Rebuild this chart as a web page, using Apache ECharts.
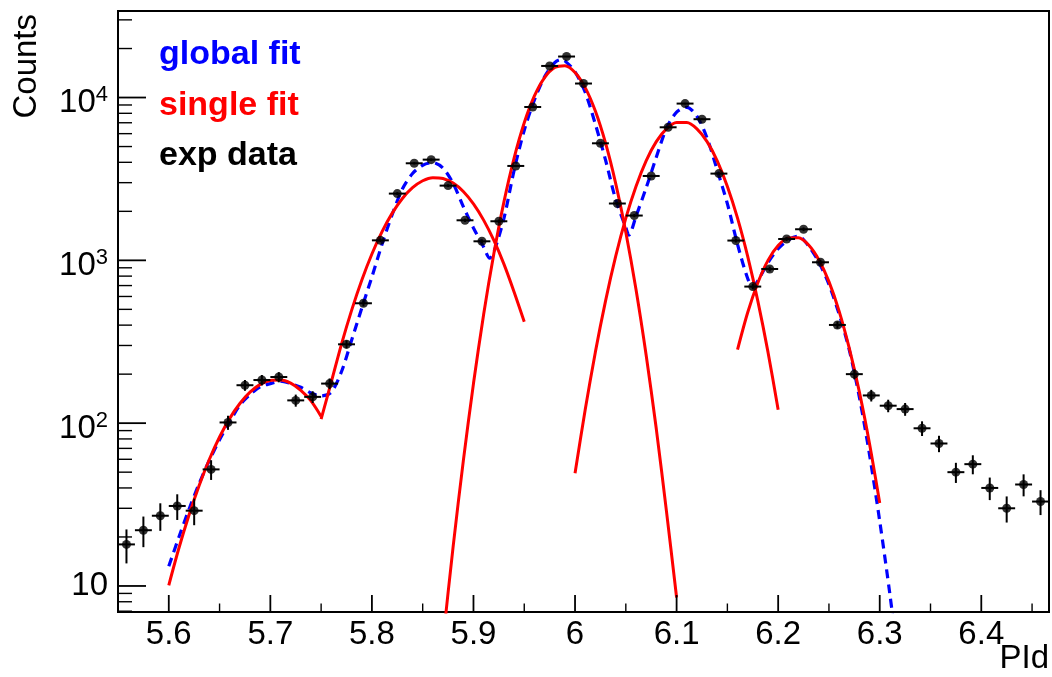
<!DOCTYPE html>
<html><head><meta charset="utf-8">
<script src="https://cdn.jsdelivr.net/npm/echarts@6/dist/echarts.min.js"></script>
<style>html,body{margin:0;padding:0;background:#fff}#c{width:1052px;height:677px}</style>
</head><body><div id="c"></div>
<script>
const FONT = '"Liberation Sans", Arial, Helvetica, sans-serif';

// histogram: 55 bins of width 1/60 starting at 5.55
const binStart = 5.55;
const binWidth = 1 / 60;
const counts = [18, 22, 27, 31, 29, 52, 101, 171, 184, 192,
  138, 145, 175, 305, 545, 1327, 2570, 3946, 4155, 2877,
  1762, 1309, 1738, 3800, 8750, 15630, 17860, 12190, 5235, 2234,
  1884, 3298, 6565, 9180, 7360, 3410, 1323, 690, 885, 1352,
  1552, 973, 401, 200, 148, 128, 122, 93, 75, 50,
  56, 40, 30, 42, 33];

// global fit (blue dashed)
const globalFit = [[5.60,13.2],[5.61,20.0],[5.62,29.7],[5.63,42.7],[5.64,59.2],[5.65,79],[5.66,102],[5.67,129],[5.68,150],[5.69,167],
  [5.70,175],[5.71,181],[5.72,175],[5.73,166],[5.74,153],[5.75,147],[5.76,155],[5.77,207],[5.78,323],[5.79,508],
  [5.80,791],[5.81,1256],[5.82,1914],[5.83,2742],[5.84,3412],[5.85,3837],[5.86,3981],[5.87,3681],[5.88,2965],[5.89,2138],
  [5.90,1581],[5.91,1208],[5.916,1030],[5.92,1122],[5.93,1811],[5.94,3573],[5.95,6295],[5.96,9660],[5.97,13400],[5.98,16400],[5.986,17100],[5.99,16800],
  [6.00,14390],[6.01,10770],[6.02,6871],[6.03,4140],[6.04,2366],[6.05,1589],[6.053,1430],[6.06,1862],[6.07,2786],[6.08,4295],[6.09,6457],
  [6.10,8128],[6.11,8710],[6.12,7674],[6.13,5636],[6.14,3581],[6.15,2228],[6.16,1253],[6.17,774],[6.175,690],[6.18,750],[6.19,970],
  [6.20,1178],[6.21,1334],[6.22,1406],[6.23,1225],[6.24,977],[6.25,711],[6.26,468],[6.27,282],[6.28,144],[6.29,63.8],
  [6.30,25],[6.31,8.9],[6.32,2.8]];

// single fits (red)
const singleFit1 = [[5.60,10.1],[5.61,17.1],[5.62,27.4],[5.63,41.6],[5.64,60.0],[5.65,82.2],[5.66,107],[5.67,132],[5.68,155],[5.69,173],
  [5.70,183],[5.71,184],[5.72,176],[5.73,159],[5.74,137],[5.75,110]];
const singleFit2 = [[5.75,106],[5.76,179],[5.77,305],[5.78,493],[5.79,755],[5.80,1094],[5.81,1500],[5.82,1950],[5.83,2399],[5.84,2793],
  [5.85,3083],[5.86,3221],[5.87,3184],[5.88,2985],[5.89,2649],[5.90,2223],[5.91,1766],[5.92,1330],[5.93,948],[5.94,640],[5.95,420]];
const singleFit3 = [[5.86,1.08],[5.87,4.6],[5.88,17.5],[5.89,58.7],[5.90,175],[5.91,465],[5.92,1094],[5.93,2286],[5.94,4246],[5.95,6998],
  [5.96,10230],[5.97,13270],[5.98,15310],[5.99,15700],[6.00,14260],[6.01,11510],[6.02,8260],[6.03,5260],[6.04,2972],[6.05,1489],
  [6.06,664],[6.07,262],[6.08,92.3],[6.09,28.8],[6.10,8.5]];
const singleFit4 = [[6.00,49.2],[6.01,121],[6.02,273],[6.03,562],[6.04,1057],[6.05,1816],[6.06,2844],[6.07,4083],[6.08,5358],[6.09,6412],
  [6.10,7015],[6.11,7015],[6.12,6412],[6.13,5358],[6.14,4083],[6.15,2844],[6.16,1816],[6.17,1057],[6.18,562],[6.19,273],[6.20,121]];
const singleFit5 = [[6.16,283],[6.17,478],[6.18,728],[6.19,1000],[6.20,1233],[6.21,1374],[6.22,1377],[6.23,1242],[6.24,1009],[6.25,740],
  [6.26,488],[6.27,289],[6.28,155],[6.29,74.5],[6.30,32.3]];

// axis ranges and ticks
const xRange = [5.55, 5.55 + 55 / 60];
const yRange = [6.92, 34000];
const xTickMajor = [5.6, 5.7, 5.8, 5.9, 6.0, 6.1, 6.2, 6.3, 6.4];
const xTickMinor = [5.65, 5.75, 5.85, 5.95, 6.05, 6.15, 6.25, 6.35, 6.45];
const yTickMajor = [10, 100, 1000, 10000];
const yTickMinor = [7, 8, 9, 20, 30, 40, 50, 60, 70, 80, 90, 200, 300, 400, 500, 600, 700, 800, 900,
  2000, 3000, 4000, 5000, 6000, 7000, 8000, 9000, 20000, 30000];

const legendItems = [
  {text: 'global fit', color: '#0000ff'},
  {text: 'single fit', color: '#ff0000'},
  {text: 'exp data', color: '#000000'}
];

const points = counts.map((c, i) => [binStart + (i + 0.5) * binWidth, c]);
const tickData = []
  .concat(xTickMajor.map(v => [v, yRange[0], 0]))
  .concat(xTickMinor.map(v => [v, yRange[0], 1]))
  .concat(yTickMajor.map(v => [xRange[0], v, 2]))
  .concat(yTickMinor.map(v => [xRange[0], v, 3]));

function renderTick(params, api) {
  const kind = api.value(2);
  const p = api.coord([api.value(0), api.value(1)]);
  const len = [17, 8.5, 28, 14][kind];
  const shape = kind < 2
    ? {x1: p[0], y1: p[1], x2: p[0], y2: p[1] - len}
    : {x1: p[0], y1: p[1], x2: p[0] + len, y2: p[1]};
  return {type: 'line', shape: shape, style: {stroke: '#000', lineWidth: kind % 2 === 0 ? 1.8 : 1.4}};
}

function renderErr(params, api) {
  const x = api.value(0), y = api.value(1), e = Math.sqrt(y);
  const c = api.coord([x, y]);
  const lo = api.coord([x, y - e]);
  const hi = api.coord([x, y + e]);
  const l = api.coord([x - binWidth / 2, y]);
  const r = api.coord([x + binWidth / 2, y]);
  const st = {stroke: '#000', lineWidth: 2};
  return {type: 'group', children: [
    {type: 'line', shape: {x1: c[0], y1: lo[1], x2: c[0], y2: hi[1]}, style: st},
    {type: 'line', shape: {x1: l[0], y1: c[1], x2: r[0], y2: c[1]}, style: st}
  ]};
}

const redStyle = {color: '#ff0000', width: 3};
function redSeries(d) {
  return {type: 'line', data: d, showSymbol: false, smooth: 0.3, lineStyle: redStyle, z: 3, clip: true};
}

const chart = echarts.init(document.getElementById('c'), null, {renderer: 'canvas'});
chart.setOption({
  animation: false,
  backgroundColor: '#fff',
  grid: {left: 118, right: 3, top: 11, bottom: 65, show: true, borderColor: '#000', borderWidth: 2, backgroundColor: 'transparent'},
  xAxis: {
    type: 'value', min: xRange[0], max: xRange[1], interval: 0.05,
    axisLine: {show: true, onZero: false, lineStyle: {color: '#000', width: 2}},
    axisTick: {show: false}, splitLine: {show: false},
    axisLabel: {
      margin: 6, fontSize: 33, fontFamily: FONT, color: '#000',
      formatter: v => (Math.round(v * 100) % 10 === 0 ? String(Math.round(v * 10) / 10) : '')
    }
  },
  yAxis: {
    type: 'log', logBase: 10, min: yRange[0], max: yRange[1],
    axisLine: {show: true, onZero: false, lineStyle: {color: '#000', width: 2}},
    axisTick: {show: false}, splitLine: {show: false}, minorTick: {show: false},
    axisLabel: {
      margin: 10, color: '#000', fontFamily: FONT,
      formatter: v => {
        const l = Math.log10(v), n = Math.round(l);
        if (Math.abs(l - n) > 1e-6) return '';
        if (n === 1) return '{p|10}';
        return '{b|10}{s|' + n + '}';
      },
      rich: {
        p: {fontSize: 33, lineHeight: 33, fontFamily: FONT, color: '#000'},
        b: {fontSize: 33, lineHeight: 33, padding: [11, 0, 0, 0], fontFamily: FONT, color: '#000'},
        s: {fontSize: 22, lineHeight: 22, padding: [0, 0, 5, 0], fontFamily: FONT, color: '#000'}
      }
    }
  },
  graphic: [
    {type: 'text', x: 27, y: 14, rotation: Math.PI / 2, silent: true,
      style: {text: 'Counts', font: '33px ' + FONT, fill: '#000', textAlign: 'right', textVerticalAlign: 'middle'}},
    {type: 'text', x: 1049, y: 659, silent: true,
      style: {text: 'PId', font: '33px ' + FONT, fill: '#000', textAlign: 'right', textVerticalAlign: 'middle'}}
  ].concat(legendItems.map((it, i) => ({
    type: 'text', x: 159, y: 55 + i * 50.5, silent: true,
    style: {text: it.text, font: 'bold 34px ' + FONT, fill: it.color, textAlign: 'left', textVerticalAlign: 'middle'}
  }))),
  series: [
    {type: 'custom', renderItem: renderTick, data: tickData, encode: {x: 0, y: 1}, clip: false, silent: true, z: 10},
    {type: 'line', data: globalFit, showSymbol: false, smooth: 0.3, z: 2,
      lineStyle: {color: '#0000ff', width: 3.2, type: [9, 6]}},
    redSeries(singleFit1), redSeries(singleFit2), redSeries(singleFit3), redSeries(singleFit4), redSeries(singleFit5),
    {type: 'custom', renderItem: renderErr, data: points, encode: {x: 0, y: 1}, z: 5, silent: true},
    {type: 'scatter', data: points, symbol: 'circle', symbolSize: 9, itemStyle: {color: '#000'}, z: 6, silent: true}
  ]
});
</script></body></html>
